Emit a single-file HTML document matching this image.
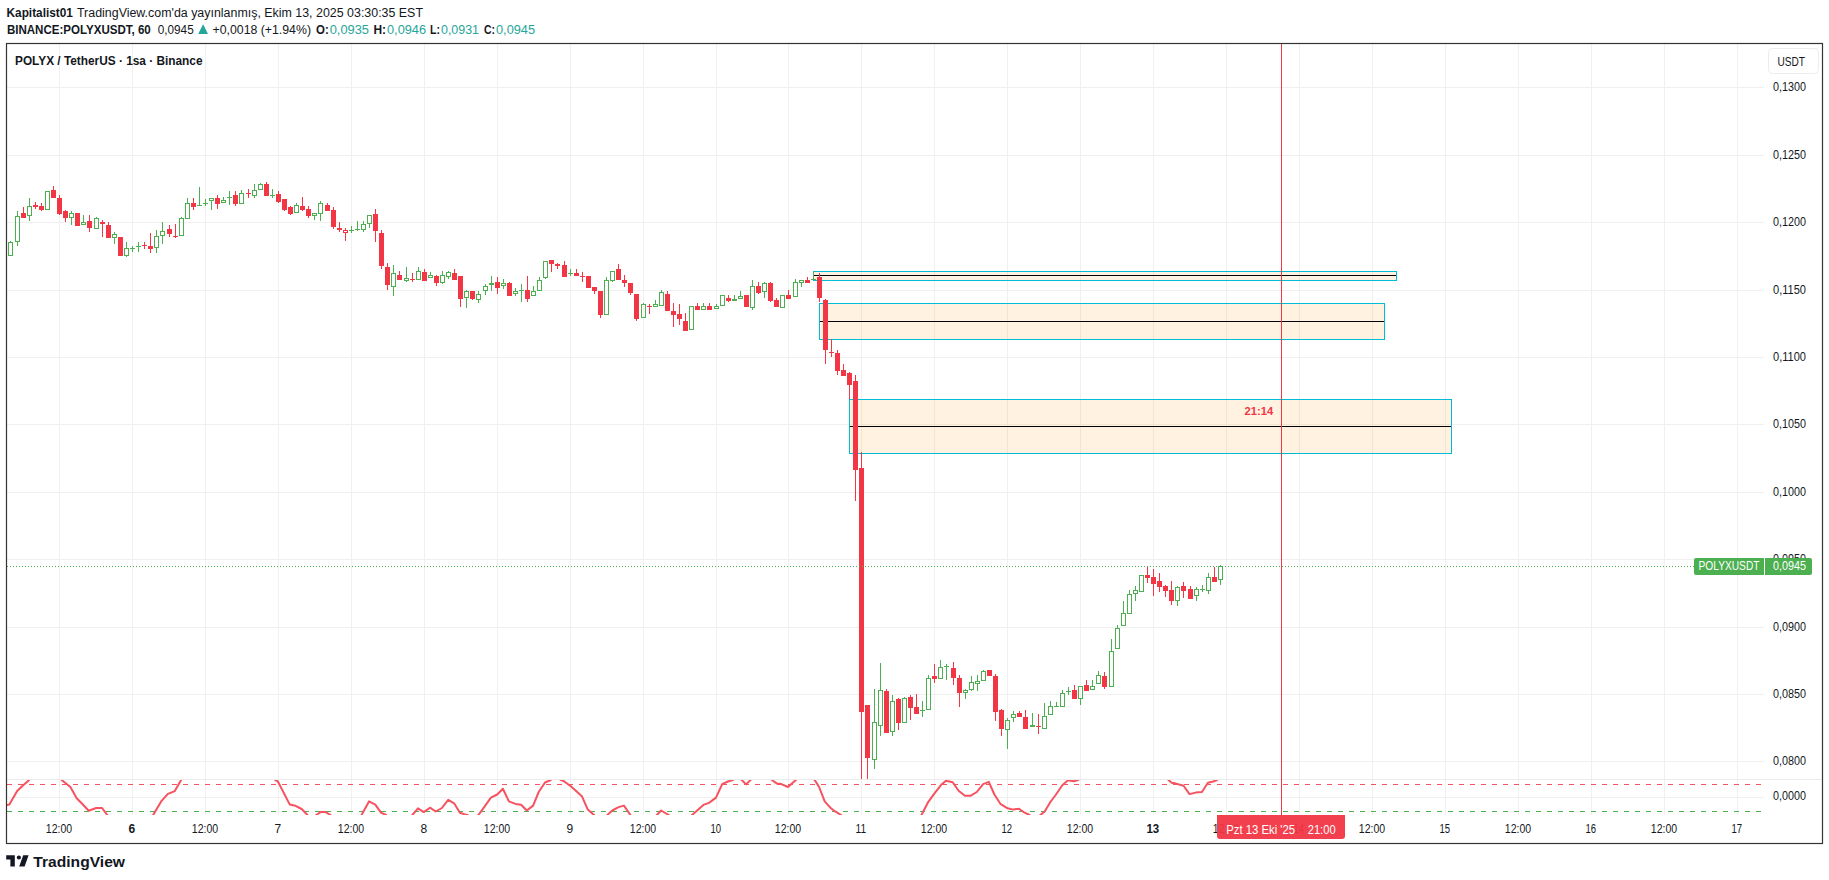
<!DOCTYPE html>
<html><head><meta charset="utf-8"><title>POLYXUSDT</title>
<style>html,body{margin:0;padding:0;background:#fff;width:1829px;height:880px;overflow:hidden}svg{display:block;position:absolute;left:0;top:0}</style>
</head><body><svg width="1829" height="880" viewBox="0 0 1829 880"><defs><clipPath id="mainclip"><rect x="7" y="44" width="1756" height="735"/></clipPath><clipPath id="indclip"><rect x="7" y="780" width="1756" height="35"/></clipPath></defs><g fill="#f0f0f0"><rect x="7" y="87" width="1757" height="1"/><rect x="7" y="155" width="1757" height="1"/><rect x="7" y="222" width="1757" height="1"/><rect x="7" y="290" width="1757" height="1"/><rect x="7" y="357" width="1757" height="1"/><rect x="7" y="424" width="1757" height="1"/><rect x="7" y="492" width="1757" height="1"/><rect x="7" y="559" width="1757" height="1"/><rect x="7" y="627" width="1757" height="1"/><rect x="7" y="694" width="1757" height="1"/><rect x="7" y="761" width="1757" height="1"/><rect x="7" y="797" width="1757" height="1"/><rect x="59" y="44" width="1" height="771"/><rect x="132" y="44" width="1" height="771"/><rect x="205" y="44" width="1" height="771"/><rect x="278" y="44" width="1" height="771"/><rect x="351" y="44" width="1" height="771"/><rect x="424" y="44" width="1" height="771"/><rect x="497" y="44" width="1" height="771"/><rect x="570" y="44" width="1" height="771"/><rect x="643" y="44" width="1" height="771"/><rect x="716" y="44" width="1" height="771"/><rect x="788" y="44" width="1" height="771"/><rect x="861" y="44" width="1" height="771"/><rect x="934" y="44" width="1" height="771"/><rect x="1007" y="44" width="1" height="771"/><rect x="1080" y="44" width="1" height="771"/><rect x="1153" y="44" width="1" height="771"/><rect x="1226" y="44" width="1" height="771"/><rect x="1299" y="44" width="1" height="771"/><rect x="1372" y="44" width="1" height="771"/><rect x="1445" y="44" width="1" height="771"/><rect x="1518" y="44" width="1" height="771"/><rect x="1591" y="44" width="1" height="771"/><rect x="1664" y="44" width="1" height="771"/><rect x="1737" y="44" width="1" height="771"/></g><rect x="7" y="779" width="1815" height="1" fill="#ebebeb"/><rect x="813.5" y="271.5" width="583" height="9" fill="rgba(255,152,0,0.12)" stroke="#00bcd4" stroke-width="1"/><rect x="814" y="275" width="582" height="1" fill="#000"/><rect x="819.5" y="303.5" width="565" height="36" fill="rgba(255,152,0,0.12)" stroke="#00bcd4" stroke-width="1"/><rect x="820" y="321" width="564" height="1" fill="#000"/><rect x="849.5" y="399.5" width="602" height="54" fill="rgba(255,152,0,0.12)" stroke="#00bcd4" stroke-width="1"/><rect x="850" y="426" width="601" height="1" fill="#000"/><g clip-path="url(#mainclip)" shape-rendering="crispEdges"><rect x="10" y="241" width="1" height="1" fill="#4caf50"/><rect x="8.5" y="242.5" width="4" height="13" fill="none" stroke="#4caf50" stroke-width="1"/><rect x="17" y="211" width="1" height="5" fill="#4caf50"/><rect x="17" y="242" width="1" height="4" fill="#4caf50"/><rect x="15.5" y="216.5" width="4" height="25" fill="none" stroke="#4caf50" stroke-width="1"/><rect x="23" y="207" width="1" height="11" fill="#f23645"/><rect x="21" y="213" width="5" height="5" fill="#f23645"/><rect x="29" y="198" width="1" height="8" fill="#4caf50"/><rect x="29" y="216" width="1" height="5" fill="#4caf50"/><rect x="27.5" y="206.5" width="4" height="9" fill="none" stroke="#4caf50" stroke-width="1"/><rect x="35" y="202" width="1" height="7" fill="#f23645"/><rect x="33" y="205" width="5" height="2" fill="#f23645"/><rect x="41" y="203" width="1" height="8" fill="#f23645"/><rect x="39" y="206" width="5" height="4" fill="#f23645"/><rect x="45.5" y="191.5" width="4" height="18" fill="none" stroke="#4caf50" stroke-width="1"/><rect x="53" y="186" width="1" height="12" fill="#f23645"/><rect x="51" y="190" width="5" height="8" fill="#f23645"/><rect x="59" y="195" width="1" height="20" fill="#f23645"/><rect x="57" y="198" width="5" height="16" fill="#f23645"/><rect x="65" y="210" width="1" height="12" fill="#f23645"/><rect x="63" y="211" width="5" height="7" fill="#f23645"/><rect x="71" y="211" width="1" height="2" fill="#4caf50"/><rect x="71" y="218" width="1" height="7" fill="#4caf50"/><rect x="69.5" y="213.5" width="4" height="4" fill="none" stroke="#4caf50" stroke-width="1"/><rect x="77" y="213" width="1" height="13" fill="#f23645"/><rect x="75" y="213" width="5" height="13" fill="#f23645"/><rect x="83" y="215" width="1" height="7" fill="#4caf50"/><rect x="81.5" y="222.5" width="4" height="2" fill="none" stroke="#4caf50" stroke-width="1"/><rect x="89" y="215" width="1" height="17" fill="#f23645"/><rect x="87" y="221" width="5" height="7" fill="#f23645"/><rect x="96" y="217" width="1" height="1" fill="#4caf50"/><rect x="94.5" y="218.5" width="4" height="10" fill="none" stroke="#4caf50" stroke-width="1"/><rect x="102" y="220" width="1" height="17" fill="#f23645"/><rect x="100" y="222" width="5" height="2" fill="#f23645"/><rect x="108" y="222" width="1" height="16" fill="#f23645"/><rect x="106" y="225" width="5" height="13" fill="#f23645"/><rect x="114" y="232" width="1" height="2" fill="#4caf50"/><rect x="114" y="238" width="1" height="6" fill="#4caf50"/><rect x="112.5" y="234.5" width="4" height="3" fill="none" stroke="#4caf50" stroke-width="1"/><rect x="120" y="237" width="1" height="19" fill="#f23645"/><rect x="118" y="237" width="5" height="19" fill="#f23645"/><rect x="126" y="242" width="1" height="6" fill="#4caf50"/><rect x="126" y="256" width="1" height="1" fill="#4caf50"/><rect x="124.5" y="248.5" width="4" height="7" fill="none" stroke="#4caf50" stroke-width="1"/><rect x="132" y="246" width="1" height="6" fill="#4caf50"/><rect x="130" y="248" width="5" height="1" fill="#4caf50"/><rect x="138" y="242" width="1" height="10" fill="#4caf50"/><rect x="136" y="246" width="5" height="1" fill="#4caf50"/><rect x="144" y="242" width="1" height="7" fill="#f23645"/><rect x="142" y="245" width="5" height="1" fill="#f23645"/><rect x="150" y="233" width="1" height="20" fill="#f23645"/><rect x="148" y="246" width="5" height="3" fill="#f23645"/><rect x="156" y="230" width="1" height="6" fill="#4caf50"/><rect x="156" y="248" width="1" height="5" fill="#4caf50"/><rect x="154.5" y="236.5" width="4" height="11" fill="none" stroke="#4caf50" stroke-width="1"/><rect x="162" y="222" width="1" height="9" fill="#4caf50"/><rect x="162" y="236" width="1" height="8" fill="#4caf50"/><rect x="160.5" y="231.5" width="4" height="4" fill="none" stroke="#4caf50" stroke-width="1"/><rect x="169" y="225" width="1" height="12" fill="#f23645"/><rect x="167" y="229" width="5" height="5" fill="#f23645"/><rect x="175" y="224" width="1" height="14" fill="#f23645"/><rect x="173" y="236" width="5" height="1" fill="#f23645"/><rect x="181" y="217" width="1" height="1" fill="#4caf50"/><rect x="179.5" y="218.5" width="4" height="17" fill="none" stroke="#4caf50" stroke-width="1"/><rect x="187" y="198" width="1" height="5" fill="#4caf50"/><rect x="185.5" y="203.5" width="4" height="15" fill="none" stroke="#4caf50" stroke-width="1"/><rect x="193" y="198" width="1" height="12" fill="#f23645"/><rect x="191" y="203" width="5" height="4" fill="#f23645"/><rect x="199" y="187" width="1" height="19" fill="#4caf50"/><rect x="197" y="205" width="5" height="1" fill="#4caf50"/><rect x="205" y="199" width="1" height="7" fill="#4caf50"/><rect x="203" y="203" width="5" height="1" fill="#4caf50"/><rect x="211" y="201" width="1" height="9" fill="#4caf50"/><rect x="209.5" y="198.5" width="4" height="2" fill="none" stroke="#4caf50" stroke-width="1"/><rect x="217" y="195" width="1" height="14" fill="#f23645"/><rect x="215" y="198" width="5" height="6" fill="#f23645"/><rect x="223" y="197" width="1" height="3" fill="#4caf50"/><rect x="221.5" y="200.5" width="4" height="2" fill="none" stroke="#4caf50" stroke-width="1"/><rect x="229" y="191" width="1" height="14" fill="#4caf50"/><rect x="227" y="197" width="5" height="1" fill="#4caf50"/><rect x="235" y="191" width="1" height="15" fill="#f23645"/><rect x="233" y="195" width="5" height="9" fill="#f23645"/><rect x="241" y="190" width="1" height="3" fill="#4caf50"/><rect x="239.5" y="193.5" width="4" height="10" fill="none" stroke="#4caf50" stroke-width="1"/><rect x="248" y="189" width="1" height="9" fill="#f23645"/><rect x="246" y="193" width="5" height="1" fill="#f23645"/><rect x="254" y="184" width="1" height="6" fill="#4caf50"/><rect x="254" y="196" width="1" height="2" fill="#4caf50"/><rect x="252.5" y="190.5" width="4" height="5" fill="none" stroke="#4caf50" stroke-width="1"/><rect x="260" y="183" width="1" height="1" fill="#4caf50"/><rect x="258.5" y="184.5" width="4" height="5" fill="none" stroke="#4caf50" stroke-width="1"/><rect x="266" y="182" width="1" height="14" fill="#f23645"/><rect x="264" y="184" width="5" height="12" fill="#f23645"/><rect x="272" y="189" width="1" height="9" fill="#4caf50"/><rect x="270" y="195" width="5" height="1" fill="#4caf50"/><rect x="278" y="191" width="1" height="12" fill="#f23645"/><rect x="276" y="194" width="5" height="8" fill="#f23645"/><rect x="284" y="199" width="1" height="12" fill="#f23645"/><rect x="282" y="199" width="5" height="11" fill="#f23645"/><rect x="290" y="206" width="1" height="9" fill="#f23645"/><rect x="288" y="207" width="5" height="7" fill="#f23645"/><rect x="296" y="203" width="1" height="2" fill="#4caf50"/><rect x="294.5" y="205.5" width="4" height="7" fill="none" stroke="#4caf50" stroke-width="1"/><rect x="302" y="197" width="1" height="14" fill="#f23645"/><rect x="300" y="206" width="5" height="4" fill="#f23645"/><rect x="308" y="206" width="1" height="12" fill="#f23645"/><rect x="306" y="209" width="5" height="7" fill="#f23645"/><rect x="314" y="216" width="1" height="4" fill="#4caf50"/><rect x="312.5" y="213.5" width="4" height="2" fill="none" stroke="#4caf50" stroke-width="1"/><rect x="320" y="201" width="1" height="2" fill="#4caf50"/><rect x="320" y="214" width="1" height="7" fill="#4caf50"/><rect x="318.5" y="203.5" width="4" height="10" fill="none" stroke="#4caf50" stroke-width="1"/><rect x="327" y="203" width="1" height="8" fill="#f23645"/><rect x="325" y="205" width="5" height="6" fill="#f23645"/><rect x="333" y="207" width="1" height="22" fill="#f23645"/><rect x="331" y="210" width="5" height="17" fill="#f23645"/><rect x="339" y="222" width="1" height="10" fill="#f23645"/><rect x="337" y="228" width="5" height="2" fill="#f23645"/><rect x="345" y="228" width="1" height="2" fill="#f23645"/><rect x="345" y="233" width="1" height="8" fill="#f23645"/><rect x="343.5" y="230.5" width="4" height="2" fill="none" stroke="#f23645" stroke-width="1"/><rect x="351" y="226" width="1" height="7" fill="#4caf50"/><rect x="349" y="230" width="5" height="1" fill="#4caf50"/><rect x="357" y="221" width="1" height="10" fill="#4caf50"/><rect x="355" y="229" width="5" height="1" fill="#4caf50"/><rect x="363" y="221" width="1" height="3" fill="#4caf50"/><rect x="363" y="230" width="1" height="2" fill="#4caf50"/><rect x="361.5" y="224.5" width="4" height="5" fill="none" stroke="#4caf50" stroke-width="1"/><rect x="369" y="224" width="1" height="4" fill="#4caf50"/><rect x="367.5" y="215.5" width="4" height="8" fill="none" stroke="#4caf50" stroke-width="1"/><rect x="375" y="209" width="1" height="33" fill="#f23645"/><rect x="373" y="214" width="5" height="17" fill="#f23645"/><rect x="381" y="230" width="1" height="39" fill="#f23645"/><rect x="379" y="233" width="5" height="33" fill="#f23645"/><rect x="387" y="263" width="1" height="27" fill="#f23645"/><rect x="385" y="267" width="5" height="18" fill="#f23645"/><rect x="393" y="265" width="1" height="8" fill="#4caf50"/><rect x="393" y="287" width="1" height="9" fill="#4caf50"/><rect x="391.5" y="273.5" width="4" height="13" fill="none" stroke="#4caf50" stroke-width="1"/><rect x="399" y="271" width="1" height="9" fill="#f23645"/><rect x="397" y="275" width="5" height="5" fill="#f23645"/><rect x="406" y="267" width="1" height="11" fill="#4caf50"/><rect x="406" y="281" width="1" height="1" fill="#4caf50"/><rect x="404.5" y="278.5" width="4" height="2" fill="none" stroke="#4caf50" stroke-width="1"/><rect x="412" y="273" width="1" height="9" fill="#f23645"/><rect x="410" y="279" width="5" height="1" fill="#f23645"/><rect x="418" y="267" width="1" height="4" fill="#4caf50"/><rect x="416.5" y="271.5" width="4" height="8" fill="none" stroke="#4caf50" stroke-width="1"/><rect x="424" y="269" width="1" height="12" fill="#f23645"/><rect x="422" y="272" width="5" height="9" fill="#f23645"/><rect x="430" y="272" width="1" height="3" fill="#4caf50"/><rect x="428.5" y="275.5" width="4" height="2" fill="none" stroke="#4caf50" stroke-width="1"/><rect x="436" y="275" width="1" height="11" fill="#f23645"/><rect x="434" y="276" width="5" height="7" fill="#f23645"/><rect x="442" y="271" width="1" height="4" fill="#4caf50"/><rect x="442" y="283" width="1" height="1" fill="#4caf50"/><rect x="440.5" y="275.5" width="4" height="7" fill="none" stroke="#4caf50" stroke-width="1"/><rect x="448" y="271" width="1" height="1" fill="#4caf50"/><rect x="448" y="277" width="1" height="2" fill="#4caf50"/><rect x="446.5" y="272.5" width="4" height="4" fill="none" stroke="#4caf50" stroke-width="1"/><rect x="454" y="269" width="1" height="11" fill="#f23645"/><rect x="452" y="273" width="5" height="7" fill="#f23645"/><rect x="460" y="276" width="1" height="31" fill="#f23645"/><rect x="458" y="276" width="5" height="23" fill="#f23645"/><rect x="466" y="290" width="1" height="1" fill="#4caf50"/><rect x="466" y="298" width="1" height="10" fill="#4caf50"/><rect x="464.5" y="291.5" width="4" height="6" fill="none" stroke="#4caf50" stroke-width="1"/><rect x="472" y="291" width="1" height="9" fill="#f23645"/><rect x="470" y="291" width="5" height="8" fill="#f23645"/><rect x="478" y="291" width="1" height="3" fill="#4caf50"/><rect x="478" y="300" width="1" height="3" fill="#4caf50"/><rect x="476.5" y="294.5" width="4" height="5" fill="none" stroke="#4caf50" stroke-width="1"/><rect x="485" y="284" width="1" height="2" fill="#4caf50"/><rect x="485" y="291" width="1" height="4" fill="#4caf50"/><rect x="483.5" y="286.5" width="4" height="4" fill="none" stroke="#4caf50" stroke-width="1"/><rect x="491" y="276" width="1" height="15" fill="#4caf50"/><rect x="489" y="283" width="5" height="2" fill="#4caf50"/><rect x="497" y="277" width="1" height="17" fill="#f23645"/><rect x="495" y="282" width="5" height="6" fill="#f23645"/><rect x="503" y="279" width="1" height="4" fill="#4caf50"/><rect x="503" y="286" width="1" height="3" fill="#4caf50"/><rect x="501.5" y="283.5" width="4" height="2" fill="none" stroke="#4caf50" stroke-width="1"/><rect x="509" y="282" width="1" height="14" fill="#f23645"/><rect x="507" y="283" width="5" height="13" fill="#f23645"/><rect x="515" y="288" width="1" height="3" fill="#4caf50"/><rect x="515" y="294" width="1" height="2" fill="#4caf50"/><rect x="513.5" y="291.5" width="4" height="2" fill="none" stroke="#4caf50" stroke-width="1"/><rect x="521" y="284" width="1" height="18" fill="#4caf50"/><rect x="519" y="290" width="5" height="1" fill="#4caf50"/><rect x="527" y="276" width="1" height="26" fill="#f23645"/><rect x="525" y="290" width="5" height="9" fill="#f23645"/><rect x="533" y="286" width="1" height="5" fill="#4caf50"/><rect x="531.5" y="291.5" width="4" height="4" fill="none" stroke="#4caf50" stroke-width="1"/><rect x="539" y="277" width="1" height="3" fill="#4caf50"/><rect x="537.5" y="280.5" width="4" height="10" fill="none" stroke="#4caf50" stroke-width="1"/><rect x="545" y="278" width="1" height="1" fill="#4caf50"/><rect x="543.5" y="261.5" width="4" height="16" fill="none" stroke="#4caf50" stroke-width="1"/><rect x="551" y="260" width="1" height="12" fill="#f23645"/><rect x="549" y="260" width="5" height="4" fill="#f23645"/><rect x="557" y="263" width="1" height="6" fill="#f23645"/><rect x="555" y="264" width="5" height="2" fill="#f23645"/><rect x="564" y="261" width="1" height="16" fill="#f23645"/><rect x="562" y="265" width="5" height="12" fill="#f23645"/><rect x="570" y="269" width="1" height="7" fill="#4caf50"/><rect x="568" y="273" width="5" height="1" fill="#4caf50"/><rect x="576" y="269" width="1" height="7" fill="#f23645"/><rect x="574" y="273" width="5" height="3" fill="#f23645"/><rect x="582" y="272" width="1" height="10" fill="#f23645"/><rect x="580" y="276" width="5" height="1" fill="#f23645"/><rect x="588" y="276" width="1" height="12" fill="#f23645"/><rect x="586" y="276" width="5" height="12" fill="#f23645"/><rect x="594" y="287" width="1" height="7" fill="#f23645"/><rect x="592" y="287" width="5" height="4" fill="#f23645"/><rect x="600" y="291" width="1" height="27" fill="#f23645"/><rect x="598" y="291" width="5" height="24" fill="#f23645"/><rect x="606" y="277" width="1" height="3" fill="#4caf50"/><rect x="604.5" y="280.5" width="4" height="34" fill="none" stroke="#4caf50" stroke-width="1"/><rect x="612" y="281" width="1" height="1" fill="#4caf50"/><rect x="610.5" y="271.5" width="4" height="9" fill="none" stroke="#4caf50" stroke-width="1"/><rect x="618" y="264" width="1" height="16" fill="#f23645"/><rect x="616" y="269" width="5" height="11" fill="#f23645"/><rect x="624" y="275" width="1" height="12" fill="#f23645"/><rect x="622" y="280" width="5" height="3" fill="#f23645"/><rect x="630" y="283" width="1" height="12" fill="#f23645"/><rect x="628" y="283" width="5" height="10" fill="#f23645"/><rect x="636" y="294" width="1" height="27" fill="#f23645"/><rect x="634" y="294" width="5" height="25" fill="#f23645"/><rect x="643" y="303" width="1" height="1" fill="#4caf50"/><rect x="641.5" y="304.5" width="4" height="13" fill="none" stroke="#4caf50" stroke-width="1"/><rect x="649" y="304" width="1" height="10" fill="#f23645"/><rect x="647" y="306" width="5" height="1" fill="#f23645"/><rect x="655" y="300" width="1" height="4" fill="#4caf50"/><rect x="653.5" y="304.5" width="4" height="2" fill="none" stroke="#4caf50" stroke-width="1"/><rect x="661" y="290" width="1" height="2" fill="#4caf50"/><rect x="659.5" y="292.5" width="4" height="13" fill="none" stroke="#4caf50" stroke-width="1"/><rect x="667" y="291" width="1" height="20" fill="#f23645"/><rect x="665" y="294" width="5" height="17" fill="#f23645"/><rect x="673" y="303" width="1" height="24" fill="#f23645"/><rect x="671" y="311" width="5" height="4" fill="#f23645"/><rect x="679" y="304" width="1" height="21" fill="#f23645"/><rect x="677" y="314" width="5" height="5" fill="#f23645"/><rect x="685" y="313" width="1" height="18" fill="#f23645"/><rect x="683" y="321" width="5" height="10" fill="#f23645"/><rect x="689.5" y="306.5" width="4" height="23" fill="none" stroke="#4caf50" stroke-width="1"/><rect x="697" y="303" width="1" height="7" fill="#f23645"/><rect x="695" y="306" width="5" height="4" fill="#f23645"/><rect x="703" y="303" width="1" height="3" fill="#4caf50"/><rect x="701.5" y="306.5" width="4" height="3" fill="none" stroke="#4caf50" stroke-width="1"/><rect x="709" y="303" width="1" height="7" fill="#f23645"/><rect x="707" y="306" width="5" height="4" fill="#f23645"/><rect x="716" y="304" width="1" height="2" fill="#4caf50"/><rect x="714.5" y="306.5" width="4" height="2" fill="none" stroke="#4caf50" stroke-width="1"/><rect x="720.5" y="295.5" width="4" height="10" fill="none" stroke="#4caf50" stroke-width="1"/><rect x="728" y="295" width="1" height="7" fill="#f23645"/><rect x="726" y="298" width="5" height="3" fill="#f23645"/><rect x="734" y="295" width="1" height="6" fill="#4caf50"/><rect x="732" y="299" width="5" height="2" fill="#4caf50"/><rect x="740" y="291" width="1" height="5" fill="#4caf50"/><rect x="738.5" y="296.5" width="4" height="2" fill="none" stroke="#4caf50" stroke-width="1"/><rect x="746" y="295" width="1" height="12" fill="#f23645"/><rect x="744" y="295" width="5" height="12" fill="#f23645"/><rect x="752" y="280" width="1" height="6" fill="#4caf50"/><rect x="752" y="308" width="1" height="2" fill="#4caf50"/><rect x="750.5" y="286.5" width="4" height="21" fill="none" stroke="#4caf50" stroke-width="1"/><rect x="758" y="282" width="1" height="12" fill="#f23645"/><rect x="756" y="286" width="5" height="7" fill="#f23645"/><rect x="764" y="282" width="1" height="1" fill="#4caf50"/><rect x="764" y="292" width="1" height="6" fill="#4caf50"/><rect x="762.5" y="283.5" width="4" height="8" fill="none" stroke="#4caf50" stroke-width="1"/><rect x="770" y="282" width="1" height="20" fill="#f23645"/><rect x="768" y="283" width="5" height="18" fill="#f23645"/><rect x="776" y="298" width="1" height="9" fill="#f23645"/><rect x="774" y="300" width="5" height="7" fill="#f23645"/><rect x="780.5" y="295.5" width="4" height="12" fill="none" stroke="#4caf50" stroke-width="1"/><rect x="788" y="290" width="1" height="9" fill="#f23645"/><rect x="786" y="295" width="5" height="4" fill="#f23645"/><rect x="795" y="279" width="1" height="3" fill="#4caf50"/><rect x="793.5" y="282.5" width="4" height="14" fill="none" stroke="#4caf50" stroke-width="1"/><rect x="801" y="283" width="1" height="4" fill="#4caf50"/><rect x="799.5" y="280.5" width="4" height="2" fill="none" stroke="#4caf50" stroke-width="1"/><rect x="807" y="277" width="1" height="6" fill="#f23645"/><rect x="805" y="280" width="5" height="3" fill="#f23645"/><rect x="813" y="271" width="1" height="9" fill="#4caf50"/><rect x="811" y="279" width="5" height="1" fill="#4caf50"/><rect x="819" y="273" width="1" height="29" fill="#f23645"/><rect x="817" y="277" width="5" height="21" fill="#f23645"/><rect x="825" y="299" width="1" height="65" fill="#f23645"/><rect x="823" y="300" width="5" height="50" fill="#f23645"/><rect x="831" y="339" width="1" height="18" fill="#f23645"/><rect x="829" y="352" width="5" height="1" fill="#f23645"/><rect x="837" y="350" width="1" height="25" fill="#f23645"/><rect x="835" y="353" width="5" height="18" fill="#f23645"/><rect x="843" y="364" width="1" height="12" fill="#f23645"/><rect x="841" y="370" width="5" height="6" fill="#f23645"/><rect x="849" y="372" width="1" height="27" fill="#f23645"/><rect x="847" y="373" width="5" height="12" fill="#f23645"/><rect x="855" y="375" width="1" height="126" fill="#f23645"/><rect x="853" y="381" width="5" height="89" fill="#f23645"/><rect x="861" y="452" width="1" height="338" fill="#f23645"/><rect x="859" y="468" width="5" height="244" fill="#f23645"/><rect x="867" y="705" width="1" height="85" fill="#f23645"/><rect x="865" y="705" width="5" height="53" fill="#f23645"/><rect x="874" y="689" width="1" height="33" fill="#4caf50"/><rect x="874" y="760" width="1" height="9" fill="#4caf50"/><rect x="872.5" y="722.5" width="4" height="37" fill="none" stroke="#4caf50" stroke-width="1"/><rect x="880" y="663" width="1" height="27" fill="#4caf50"/><rect x="880" y="726" width="1" height="10" fill="#4caf50"/><rect x="878.5" y="690.5" width="4" height="35" fill="none" stroke="#4caf50" stroke-width="1"/><rect x="886" y="689" width="1" height="44" fill="#f23645"/><rect x="884" y="691" width="5" height="42" fill="#f23645"/><rect x="892" y="695" width="1" height="6" fill="#4caf50"/><rect x="892" y="732" width="1" height="4" fill="#4caf50"/><rect x="890.5" y="701.5" width="4" height="30" fill="none" stroke="#4caf50" stroke-width="1"/><rect x="898" y="698" width="1" height="32" fill="#f23645"/><rect x="896" y="699" width="5" height="24" fill="#f23645"/><rect x="904" y="697" width="1" height="1" fill="#4caf50"/><rect x="902.5" y="698.5" width="4" height="24" fill="none" stroke="#4caf50" stroke-width="1"/><rect x="910" y="695" width="1" height="25" fill="#f23645"/><rect x="908" y="697" width="5" height="11" fill="#f23645"/><rect x="916" y="694" width="1" height="20" fill="#f23645"/><rect x="914" y="707" width="5" height="7" fill="#f23645"/><rect x="922" y="701" width="1" height="16" fill="#4caf50"/><rect x="920" y="710" width="5" height="1" fill="#4caf50"/><rect x="928" y="675" width="1" height="3" fill="#4caf50"/><rect x="926.5" y="678.5" width="4" height="31" fill="none" stroke="#4caf50" stroke-width="1"/><rect x="934" y="664" width="1" height="19" fill="#f23645"/><rect x="932" y="676" width="5" height="3" fill="#f23645"/><rect x="940" y="660" width="1" height="7" fill="#4caf50"/><rect x="938.5" y="667.5" width="4" height="11" fill="none" stroke="#4caf50" stroke-width="1"/><rect x="946" y="664" width="1" height="16" fill="#4caf50"/><rect x="944" y="666" width="5" height="1" fill="#4caf50"/><rect x="953" y="662" width="1" height="23" fill="#f23645"/><rect x="951" y="668" width="5" height="10" fill="#f23645"/><rect x="959" y="675" width="1" height="32" fill="#f23645"/><rect x="957" y="678" width="5" height="15" fill="#f23645"/><rect x="965" y="689" width="1" height="1" fill="#4caf50"/><rect x="965" y="693" width="1" height="6" fill="#4caf50"/><rect x="963.5" y="690.5" width="4" height="2" fill="none" stroke="#4caf50" stroke-width="1"/><rect x="971" y="676" width="1" height="6" fill="#4caf50"/><rect x="971" y="690" width="1" height="1" fill="#4caf50"/><rect x="969.5" y="682.5" width="4" height="7" fill="none" stroke="#4caf50" stroke-width="1"/><rect x="977" y="675" width="1" height="6" fill="#4caf50"/><rect x="977" y="684" width="1" height="7" fill="#4caf50"/><rect x="975.5" y="681.5" width="4" height="2" fill="none" stroke="#4caf50" stroke-width="1"/><rect x="983" y="670" width="1" height="1" fill="#4caf50"/><rect x="981.5" y="671.5" width="4" height="9" fill="none" stroke="#4caf50" stroke-width="1"/><rect x="989" y="670" width="1" height="6" fill="#f23645"/><rect x="987" y="670" width="5" height="6" fill="#f23645"/><rect x="995" y="674" width="1" height="47" fill="#f23645"/><rect x="993" y="676" width="5" height="36" fill="#f23645"/><rect x="1001" y="709" width="1" height="27" fill="#f23645"/><rect x="999" y="710" width="5" height="19" fill="#f23645"/><rect x="1007" y="718" width="1" height="2" fill="#4caf50"/><rect x="1007" y="730" width="1" height="19" fill="#4caf50"/><rect x="1005.5" y="720.5" width="4" height="9" fill="none" stroke="#4caf50" stroke-width="1"/><rect x="1013" y="711" width="1" height="3" fill="#4caf50"/><rect x="1013" y="718" width="1" height="4" fill="#4caf50"/><rect x="1011.5" y="714.5" width="4" height="3" fill="none" stroke="#4caf50" stroke-width="1"/><rect x="1019" y="711" width="1" height="6" fill="#f23645"/><rect x="1017" y="713" width="5" height="4" fill="#f23645"/><rect x="1025" y="710" width="1" height="19" fill="#f23645"/><rect x="1023" y="717" width="5" height="12" fill="#f23645"/><rect x="1032" y="713" width="1" height="14" fill="#4caf50"/><rect x="1030" y="725" width="5" height="2" fill="#4caf50"/><rect x="1038" y="714" width="1" height="20" fill="#f23645"/><rect x="1036" y="726" width="5" height="1" fill="#f23645"/><rect x="1044" y="703" width="1" height="13" fill="#4caf50"/><rect x="1042.5" y="716.5" width="4" height="12" fill="none" stroke="#4caf50" stroke-width="1"/><rect x="1050" y="701" width="1" height="5" fill="#4caf50"/><rect x="1048.5" y="706.5" width="4" height="8" fill="none" stroke="#4caf50" stroke-width="1"/><rect x="1056" y="702" width="1" height="4" fill="#4caf50"/><rect x="1054" y="706" width="5" height="1" fill="#4caf50"/><rect x="1062" y="690" width="1" height="3" fill="#4caf50"/><rect x="1060.5" y="693.5" width="4" height="13" fill="none" stroke="#4caf50" stroke-width="1"/><rect x="1068" y="687" width="1" height="8" fill="#4caf50"/><rect x="1066" y="691" width="5" height="1" fill="#4caf50"/><rect x="1074" y="685" width="1" height="14" fill="#f23645"/><rect x="1072" y="690" width="5" height="9" fill="#f23645"/><rect x="1080" y="699" width="1" height="6" fill="#4caf50"/><rect x="1078.5" y="686.5" width="4" height="12" fill="none" stroke="#4caf50" stroke-width="1"/><rect x="1086" y="680" width="1" height="11" fill="#f23645"/><rect x="1084" y="685" width="5" height="6" fill="#f23645"/><rect x="1092" y="680" width="1" height="6" fill="#4caf50"/><rect x="1090.5" y="686.5" width="4" height="3" fill="none" stroke="#4caf50" stroke-width="1"/><rect x="1098" y="671" width="1" height="4" fill="#4caf50"/><rect x="1096.5" y="675.5" width="4" height="8" fill="none" stroke="#4caf50" stroke-width="1"/><rect x="1104" y="672" width="1" height="17" fill="#f23645"/><rect x="1102" y="676" width="5" height="11" fill="#f23645"/><rect x="1111" y="639" width="1" height="12" fill="#4caf50"/><rect x="1109.5" y="651.5" width="4" height="35" fill="none" stroke="#4caf50" stroke-width="1"/><rect x="1117" y="625" width="1" height="3" fill="#4caf50"/><rect x="1115.5" y="628.5" width="4" height="20" fill="none" stroke="#4caf50" stroke-width="1"/><rect x="1123" y="601" width="1" height="12" fill="#4caf50"/><rect x="1121.5" y="613.5" width="4" height="12" fill="none" stroke="#4caf50" stroke-width="1"/><rect x="1129" y="590" width="1" height="4" fill="#4caf50"/><rect x="1127.5" y="594.5" width="4" height="19" fill="none" stroke="#4caf50" stroke-width="1"/><rect x="1135" y="586" width="1" height="4" fill="#4caf50"/><rect x="1135" y="594" width="1" height="7" fill="#4caf50"/><rect x="1133.5" y="590.5" width="4" height="3" fill="none" stroke="#4caf50" stroke-width="1"/><rect x="1139.5" y="575.5" width="4" height="16" fill="none" stroke="#4caf50" stroke-width="1"/><rect x="1147" y="567" width="1" height="16" fill="#f23645"/><rect x="1145" y="575" width="5" height="3" fill="#f23645"/><rect x="1153" y="569" width="1" height="27" fill="#f23645"/><rect x="1151" y="577" width="5" height="7" fill="#f23645"/><rect x="1159" y="573" width="1" height="19" fill="#f23645"/><rect x="1157" y="581" width="5" height="6" fill="#f23645"/><rect x="1165" y="585" width="1" height="12" fill="#f23645"/><rect x="1163" y="586" width="5" height="5" fill="#f23645"/><rect x="1171" y="581" width="1" height="24" fill="#f23645"/><rect x="1169" y="590" width="5" height="11" fill="#f23645"/><rect x="1177" y="586" width="1" height="1" fill="#4caf50"/><rect x="1177" y="601" width="1" height="5" fill="#4caf50"/><rect x="1175.5" y="587.5" width="4" height="13" fill="none" stroke="#4caf50" stroke-width="1"/><rect x="1183" y="582" width="1" height="16" fill="#f23645"/><rect x="1181" y="586" width="5" height="5" fill="#f23645"/><rect x="1190" y="586" width="1" height="13" fill="#f23645"/><rect x="1188" y="589" width="5" height="10" fill="#f23645"/><rect x="1196" y="587" width="1" height="2" fill="#4caf50"/><rect x="1196" y="596" width="1" height="5" fill="#4caf50"/><rect x="1194.5" y="589.5" width="4" height="6" fill="none" stroke="#4caf50" stroke-width="1"/><rect x="1202" y="585" width="1" height="7" fill="#4caf50"/><rect x="1200" y="589" width="5" height="1" fill="#4caf50"/><rect x="1208" y="573" width="1" height="4" fill="#4caf50"/><rect x="1208" y="591" width="1" height="3" fill="#4caf50"/><rect x="1206.5" y="577.5" width="4" height="13" fill="none" stroke="#4caf50" stroke-width="1"/><rect x="1214" y="567" width="1" height="15" fill="#f23645"/><rect x="1212" y="577" width="5" height="5" fill="#f23645"/><rect x="1220" y="565" width="1" height="1" fill="#4caf50"/><rect x="1220" y="580" width="1" height="5" fill="#4caf50"/><rect x="1218.5" y="566.5" width="4" height="13" fill="none" stroke="#4caf50" stroke-width="1"/></g><line x1="7" y1="566.5" x2="1694" y2="566.5" stroke="#4caf50" stroke-width="1" stroke-dasharray="1 2"/><rect x="1281" y="44" width="1" height="771" fill="#f23645"/><line x1="7" y1="784.5" x2="1761" y2="784.5" stroke="#f23645" stroke-opacity="0.85" stroke-width="1" stroke-dasharray="5 6"/><line x1="7" y1="811.5" x2="1761" y2="811.5" stroke="#4caf50" stroke-width="1" stroke-dasharray="5 6"/><g clip-path="url(#indclip)" fill="none" stroke="#f7525f" stroke-width="2" stroke-linejoin="round"><polyline points="0.0,806.0 6.3,805.2 9.4,804.6 17.0,791.3 22.6,785.7 28.9,780.3 35.0,770.0"/><polyline points="55.0,770.0 61.6,780.0 70.4,787.0 76.7,798.3 81.7,803.3 88.7,810.8 96.2,808.0 102.1,808.0 106.9,814.6 112.0,822.0"/><polyline points="148.0,822.0 153.4,814.6 161.6,800.8 167.9,793.9 174.8,791.1 181.1,780.0 187.0,770.0"/><polyline points="270.0,770.0 275.3,780.0 277.8,781.3 289.8,804.6 295.5,805.8 301.7,809.0 307.4,815.0 312.0,822.0"/><polyline points="312.0,822.0 316.2,815.0 320.6,812.1 325.6,812.1 330.7,815.0 335.0,822.0"/><polyline points="356.0,822.0 361.5,815.0 369.0,801.4 375.3,804.6 381.0,812.7 386.0,815.0 392.0,822.0"/><polyline points="406.0,822.0 412.4,815.0 418.0,808.3 423.7,812.1 430.0,807.7 435.7,811.5 441.9,808.0 448.2,799.9 454.1,803.3 459.9,812.7 465.2,814.6 467.7,815.0 472.0,822.0"/><polyline points="472.0,822.0 478.4,815.0 484.0,807.4 490.9,797.6 497.2,794.5 502.9,788.8 508.9,801.4 515.5,803.9 521.1,804.8 526.8,810.5 533.1,805.6 538.7,792.0 545.0,782.5 550.7,780.0 556.0,776.0"/><polyline points="556.0,776.0 560.7,780.0 563.2,780.7 570.8,786.3 576.4,791.3 582.1,796.6 587.8,809.6 594.0,815.0 600.0,822.0"/><polyline points="602.0,822.0 607.3,815.0 612.3,810.5 618.6,807.1 623.9,805.6 630.5,815.0 636.0,822.0"/><polyline points="651.0,822.0 656.9,815.0 661.1,810.5 668.8,815.0 674.0,822.0"/><polyline points="686.0,822.0 692.1,815.0 703.4,804.9 709.0,802.9 716.0,797.6 722.2,784.1 727.9,781.5 732.9,780.0 738.0,776.0"/><polyline points="736.0,774.0 741.7,780.0 746.1,784.4 750.5,780.0 756.0,774.0"/><polyline points="766.0,774.0 771.9,780.0 777.0,783.6 781.4,784.1 788.0,787.0 795.8,780.0 802.0,774.0"/><polyline points="809.0,774.0 814.7,780.0 819.1,787.0 824.7,801.4 831.0,808.3 834.8,811.2 841.1,815.0 847.0,822.0"/><polyline points="915.0,822.0 921.5,815.0 927.8,802.7 934.1,793.9 941.0,785.1 946.0,780.7 952.7,782.3 958.6,790.7 964.9,795.7 970.8,795.7 976.8,792.0 983.1,784.1 988.8,781.9 994.4,794.5 1000.7,804.2 1007.6,808.3 1013.3,809.6 1019.0,808.7 1024.6,812.7 1029.6,815.0 1035.0,822.0"/><polyline points="1035.0,822.0 1040.3,815.0 1044.7,811.5 1050.4,802.0 1056.0,794.5 1062.3,785.3 1068.0,780.3 1073.7,781.3 1078.1,780.0 1084.0,776.0"/><polyline points="1162.0,774.0 1168.5,780.0 1171.7,782.8 1176.1,783.6 1183.6,785.7 1189.5,794.1 1195.6,792.6 1201.9,792.0 1207.9,782.8 1213.2,781.5 1217.0,780.0 1222.0,776.0"/></g><rect x="6.5" y="43.5" width="1816" height="800" fill="none" stroke="#333333" stroke-width="1.2"/><g font-family='"Liberation Sans", sans-serif' font-size="12" fill="#131722"><text x="1773" y="90.8" textLength="33" lengthAdjust="spacingAndGlyphs">0,1300</text><text x="1773" y="158.8" textLength="33" lengthAdjust="spacingAndGlyphs">0,1250</text><text x="1773" y="225.8" textLength="33" lengthAdjust="spacingAndGlyphs">0,1200</text><text x="1773" y="293.8" textLength="33" lengthAdjust="spacingAndGlyphs">0,1150</text><text x="1773" y="360.8" textLength="33" lengthAdjust="spacingAndGlyphs">0,1100</text><text x="1773" y="427.8" textLength="33" lengthAdjust="spacingAndGlyphs">0,1050</text><text x="1773" y="495.8" textLength="33" lengthAdjust="spacingAndGlyphs">0,1000</text><text x="1773" y="562.8" textLength="33" lengthAdjust="spacingAndGlyphs">0,0950</text><text x="1773" y="630.8" textLength="33" lengthAdjust="spacingAndGlyphs">0,0900</text><text x="1773" y="697.8" textLength="33" lengthAdjust="spacingAndGlyphs">0,0850</text><text x="1773" y="764.8" textLength="33" lengthAdjust="spacingAndGlyphs">0,0800</text><text x="1773" y="799.9" textLength="33" lengthAdjust="spacingAndGlyphs">0,0000</text></g><rect x="1768.5" y="48.5" width="50" height="25" rx="4" fill="#fff" stroke="#ececec" stroke-width="1"/><text x="1777.5" y="65.9" font-family='"Liberation Sans", sans-serif' font-size="12" fill="#131722" textLength="27.5" lengthAdjust="spacingAndGlyphs">USDT</text><path d="M1696,558 H1764 V575 H1696 a2,2 0 0 1 -2,-2 V560 a2,2 0 0 1 2,-2 Z" fill="#4caf50"/><path d="M1765,558 H1810 a2,2 0 0 1 2,2 V573 a2,2 0 0 1 -2,2 H1765 Z" fill="#4caf50"/><text x="1698.5" y="569.6" font-family='"Liberation Sans", sans-serif' font-size="12" fill="#fff" textLength="61" lengthAdjust="spacingAndGlyphs">POLYXUSDT</text><text x="1773" y="569.6" font-family='"Liberation Sans", sans-serif' font-size="12" fill="#fff" textLength="33" lengthAdjust="spacingAndGlyphs">0,0945</text><g font-family='"Liberation Sans", sans-serif' font-size="12" fill="#131722"><text x="59.0" y="832.8" text-anchor="middle" textLength="26.3" lengthAdjust="spacingAndGlyphs">12:00</text><text x="131.8" y="832.8" text-anchor="middle" font-weight="bold">6</text><text x="205.0" y="832.8" text-anchor="middle" textLength="26.3" lengthAdjust="spacingAndGlyphs">12:00</text><text x="277.8" y="832.8" text-anchor="middle">7</text><text x="351.0" y="832.8" text-anchor="middle" textLength="26.3" lengthAdjust="spacingAndGlyphs">12:00</text><text x="423.8" y="832.8" text-anchor="middle">8</text><text x="497.0" y="832.8" text-anchor="middle" textLength="26.3" lengthAdjust="spacingAndGlyphs">12:00</text><text x="569.8" y="832.8" text-anchor="middle">9</text><text x="643.0" y="832.8" text-anchor="middle" textLength="26.3" lengthAdjust="spacingAndGlyphs">12:00</text><text x="715.8" y="832.8" text-anchor="middle" textLength="10.6" lengthAdjust="spacingAndGlyphs">10</text><text x="788.0" y="832.8" text-anchor="middle" textLength="26.3" lengthAdjust="spacingAndGlyphs">12:00</text><text x="860.8" y="832.8" text-anchor="middle" textLength="10.6" lengthAdjust="spacingAndGlyphs">11</text><text x="934.0" y="832.8" text-anchor="middle" textLength="26.3" lengthAdjust="spacingAndGlyphs">12:00</text><text x="1006.8" y="832.8" text-anchor="middle" textLength="10.6" lengthAdjust="spacingAndGlyphs">12</text><text x="1080.0" y="832.8" text-anchor="middle" textLength="26.3" lengthAdjust="spacingAndGlyphs">12:00</text><text x="1152.8" y="832.8" text-anchor="middle" font-weight="bold" textLength="12.8" lengthAdjust="spacingAndGlyphs">13</text><text x="1226.0" y="832.8" text-anchor="middle" textLength="26.3" lengthAdjust="spacingAndGlyphs">12:00</text><text x="1298.8" y="832.8" text-anchor="middle" textLength="10.6" lengthAdjust="spacingAndGlyphs">14</text><text x="1372.0" y="832.8" text-anchor="middle" textLength="26.3" lengthAdjust="spacingAndGlyphs">12:00</text><text x="1444.8" y="832.8" text-anchor="middle" textLength="10.6" lengthAdjust="spacingAndGlyphs">15</text><text x="1518.0" y="832.8" text-anchor="middle" textLength="26.3" lengthAdjust="spacingAndGlyphs">12:00</text><text x="1590.8" y="832.8" text-anchor="middle" textLength="10.6" lengthAdjust="spacingAndGlyphs">16</text><text x="1664.0" y="832.8" text-anchor="middle" textLength="26.3" lengthAdjust="spacingAndGlyphs">12:00</text><text x="1736.8" y="832.8" text-anchor="middle" textLength="10.6" lengthAdjust="spacingAndGlyphs">17</text></g><path d="M1217,815 H1345 V836 a3,3 0 0 1 -3,3 H1220 a3,3 0 0 1 -3,-3 Z" fill="#f23645" fill-opacity="0.95"/><text x="1226.2" y="833.5" font-family='"Liberation Sans", sans-serif' font-size="12" fill="#fff" textLength="68.9" lengthAdjust="spacingAndGlyphs">Pzt 13 Eki '25</text><text x="1307.7" y="833.5" font-family='"Liberation Sans", sans-serif' font-size="12" fill="#fff" textLength="27.9" lengthAdjust="spacingAndGlyphs">21:00</text><text x="1244.6" y="415.3" font-family='"Liberation Sans", sans-serif' font-size="10" font-weight="bold" fill="#f23645" textLength="28.5" lengthAdjust="spacingAndGlyphs">21:14</text><text x="15" y="64.8" font-family='"Liberation Sans", sans-serif' font-size="12" font-weight="bold" fill="#131722" textLength="187.5" lengthAdjust="spacingAndGlyphs">POLYX / TetherUS · 1sa · Binance</text><text x="6.6" y="16.9" font-family='"Liberation Sans", sans-serif' font-size="12" font-weight="bold" fill="#131722" textLength="66.2" lengthAdjust="spacingAndGlyphs">Kapitalist01</text><text x="77" y="16.9" font-family='"Liberation Sans", sans-serif' font-size="12" fill="#131722" textLength="346" lengthAdjust="spacingAndGlyphs">TradingView.com'da yayınlanmış, Ekim 13, 2025 03:30:35 EST</text><text x="6.9" y="33.8" font-family='"Liberation Sans", sans-serif' font-size="12" font-weight="bold" fill="#131722" textLength="143.9" lengthAdjust="spacingAndGlyphs">BINANCE:POLYXUSDT, 60</text><text x="157.7" y="33.8" font-family='"Liberation Sans", sans-serif' font-size="12" fill="#131722" textLength="36" lengthAdjust="spacingAndGlyphs">0,0945</text><path d="M198.2,33.9 L203.1,24.3 L208,33.9 Z" fill="#26a69a"/><text x="212.5" y="33.8" font-family='"Liberation Sans", sans-serif' font-size="12" fill="#131722" textLength="98.5" lengthAdjust="spacingAndGlyphs">+0,0018 (+1.94%)</text><text x="316" y="33.8" font-family='"Liberation Sans", sans-serif' font-size="12.5" font-weight="bold" fill="#131722" textLength="12.7" lengthAdjust="spacingAndGlyphs">O:</text><text x="329.7" y="33.8" font-family='"Liberation Sans", sans-serif' font-size="12" fill="#26a69a" textLength="39.3" lengthAdjust="spacingAndGlyphs">0,0935</text><text x="373.4" y="33.8" font-family='"Liberation Sans", sans-serif' font-size="12.5" font-weight="bold" fill="#131722" textLength="12.6" lengthAdjust="spacingAndGlyphs">H:</text><text x="387" y="33.8" font-family='"Liberation Sans", sans-serif' font-size="12" fill="#26a69a" textLength="39.0" lengthAdjust="spacingAndGlyphs">0,0946</text><text x="430" y="33.8" font-family='"Liberation Sans", sans-serif' font-size="12.5" font-weight="bold" fill="#131722" textLength="10.0" lengthAdjust="spacingAndGlyphs">L:</text><text x="441" y="33.8" font-family='"Liberation Sans", sans-serif' font-size="12" fill="#26a69a" textLength="38.0" lengthAdjust="spacingAndGlyphs">0,0931</text><text x="484" y="33.8" font-family='"Liberation Sans", sans-serif' font-size="12.5" font-weight="bold" fill="#131722" textLength="11.0" lengthAdjust="spacingAndGlyphs">C:</text><text x="496" y="33.8" font-family='"Liberation Sans", sans-serif' font-size="12" fill="#26a69a" textLength="39.0" lengthAdjust="spacingAndGlyphs">0,0945</text><g fill="#131722"><path d="M6.2,855.2 H14.8 V866.6 H10.4 V859.6 H6.2 Z"/><circle cx="18.9" cy="857.5" r="2.1"/><path d="M23.2,855.2 H28.6 L24.6,866.6 H19.2 Z"/></g><text x="33.3" y="866.6" font-family='"Liberation Sans", sans-serif' font-size="15.5" font-weight="bold" fill="#131722" textLength="91.7" lengthAdjust="spacingAndGlyphs">TradingView</text></svg></body></html>
